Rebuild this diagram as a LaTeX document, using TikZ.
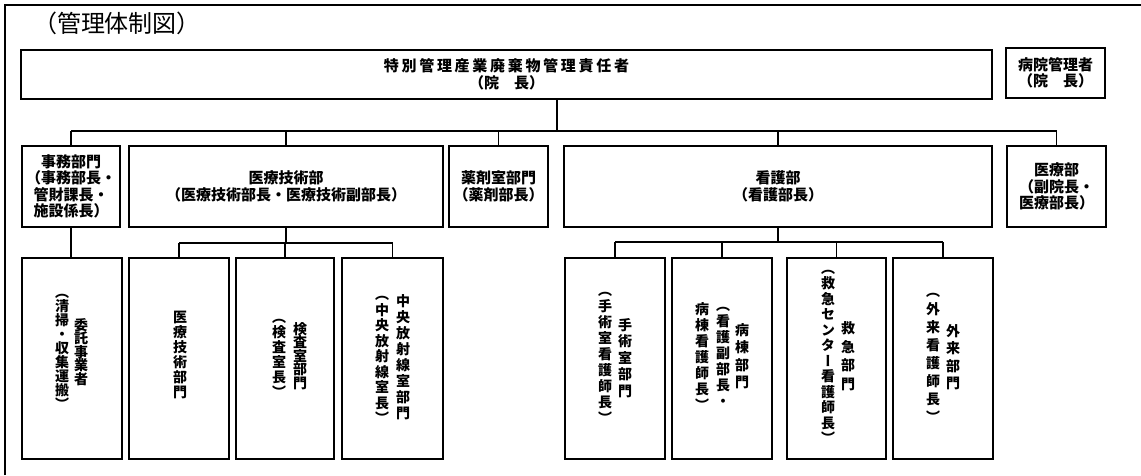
\documentclass[tikz,border=0pt]{standalone}
\usepackage{fontspec}
\newfontfamily\cjk{Noto Sans CJK JP}
\newfontfamily\cjkv[RawFeature=+vert]{Noto Sans CJK JP}
\begin{document}
\begin{tikzpicture}[x=1pt,y=-1pt,
  frame/.style={line width=1.4pt},
  box/.style={draw, line width=1.2pt, inner sep=0pt, align=center,
    font=\cjk\bfseries\fontsize{15}{16.5}\selectfont},
  link/.style={line width=1.2pt},
  vcol/.style={inner sep=0pt, align=center, font=\cjkv\bfseries\fontsize{14}{#1}\selectfont},
  vcol/.default=16
]
\useasboundingbox (0,0) rectangle (1141,475);
% outer frame (top and left edges)
\coordinate (fA) at (5,475);
\coordinate (fB) at (5,5);
\coordinate (fC) at (1141,5);
\draw[frame] (fA) -- (fB) -- (fC);

\node[inner sep=0pt, font=\cjk\fontsize{24}{26}\selectfont] (title) at (117,23) {（管理体制図）};

% top row
\node[box, minimum width=971, minimum height=49] (top) at (506.5,74.5)
  {{\addfontfeature{LetterSpace=18}特別管理産業廃棄物管理責任者}\\（院　長）};
\node[box, minimum width=99, minimum height=50] (hosp) at (1055.5,73)
  {病院管理者\\（院　長）};

% middle row
\node[box, minimum width=98, minimum height=81] (m1) at (71,186.5)
  {事務部門\\（事務部長・\\管財課長・\\施設係長）};
\node[box, minimum width=314, minimum height=81] (m2) at (286,186.5)
  {医療技術部\\（医療技術部長・医療技術副部長）};
\node[box, minimum width=99, minimum height=81] (m3) at (498.5,186.5)
  {薬剤室部門\\（薬剤部長）};
\node[box, minimum width=428, minimum height=81] (m4) at (778,186.5)
  {看護部\\（看護部長）};
\node[box, minimum width=99, minimum height=81] (m5) at (1056.5,186.5)
  {医療部\\（副院長・\\医療部長）};

% bottom row boxes
\node[box, minimum width=100, minimum height=201] (b1) at (72,358.5) {};
\node[box, minimum width=100, minimum height=201] (b2) at (179,358.5) {};
\node[box, minimum width=98, minimum height=201] (b3) at (285,358.5) {};
\node[box, minimum width=101, minimum height=201] (b4) at (392.5,358.5) {};
\node[box, minimum width=100, minimum height=201] (b5) at (615,358.5) {};
\node[box, minimum width=100, minimum height=201] (b6) at (722,358.5) {};
\node[box, minimum width=99, minimum height=201] (b7) at (836.5,358.5) {};
\node[box, minimum width=100, minimum height=201] (b8) at (943,358.5) {};

% vertical texts
\node[vcol=13.5] (t1r) at (81,352) {委\\託\\事\\業\\者};
\node[vcol=14] (t1l) at (62,352) {︵\\清\\掃\\・\\収\\集\\運\\搬\\︶};
\node[vcol=15] (t2) at (180,355) {医\\療\\技\\術\\部\\門};
\node[vcol=13.5] (t3r) at (300,356) {検\\査\\室\\部\\門};
\node[vcol=15] (t3l) at (279,358) {︵\\検\\査\\室\\長\\︶};
\node[vcol=16] (t4r) at (403,357) {中\\央\\放\\射\\線\\室\\部\\門};
\node[vcol=15.5] (t4l) at (382,360) {︵\\中\\央\\放\\射\\線\\室\\長\\︶};
\node[vcol=16.5] (t5r) at (625,358) {手\\術\\室\\部\\門};
\node[vcol=16] (t5l) at (605,358) {︵\\手\\術\\室\\看\\護\\師\\長\\︶};
\node[vcol=17.5] (t6r) at (742,356) {病\\棟\\部\\門};
\node[vcol=16] (t6m) at (723,357) {︵\\看\\護\\副\\部\\長\\・};
\node[vcol=16] (t6l) at (702,357) {病\\棟\\看\\護\\師\\長\\︶};
\node[vcol=18.5] (t7r) at (848,356) {救\\急\\部\\門};
\node[vcol=15.5] (t7l) at (828,357) {︵\\救\\急\\セ\\ン\\タ\\ー\\看\\護\\師\\長\\︶};
\node[vcol=17.5] (t8r) at (953,357) {外\\来\\部\\門};
\node[vcol=18] (t8l) at (933,358) {︵\\外\\来\\看\\護\\師\\長\\︶};

% connectors
\coordinate (j0) at (557,131);
\draw[link] (top.south -| j0) -- (j0);
\draw[link] (m1.north |- j0) -- (m5.north |- j0);
\foreach \n in {m1,m2,m3,m4,m5} \draw[link] (\n.north |- j0) -- (\n.north);
\draw[link] (m1.south) -- (m1.south |- b1.north);

\coordinate (j1) at (286,243);
\draw[link] (m2.south) -- (m2.south |- j1);
\draw[link] (b2.north |- j1) -- (b4.north |- j1);
\foreach \n in {b2,b3,b4} \draw[link] (\n.north |- j1) -- (\n.north);

\coordinate (j2) at (778,242);
\draw[link] (m4.south) -- (m4.south |- j2);
\draw[link] (b5.north |- j2) -- (b8.north |- j2);
\foreach \n in {b5,b6,b7,b8} \draw[link] (\n.north |- j2) -- (\n.north);
\end{tikzpicture}
\end{document}
